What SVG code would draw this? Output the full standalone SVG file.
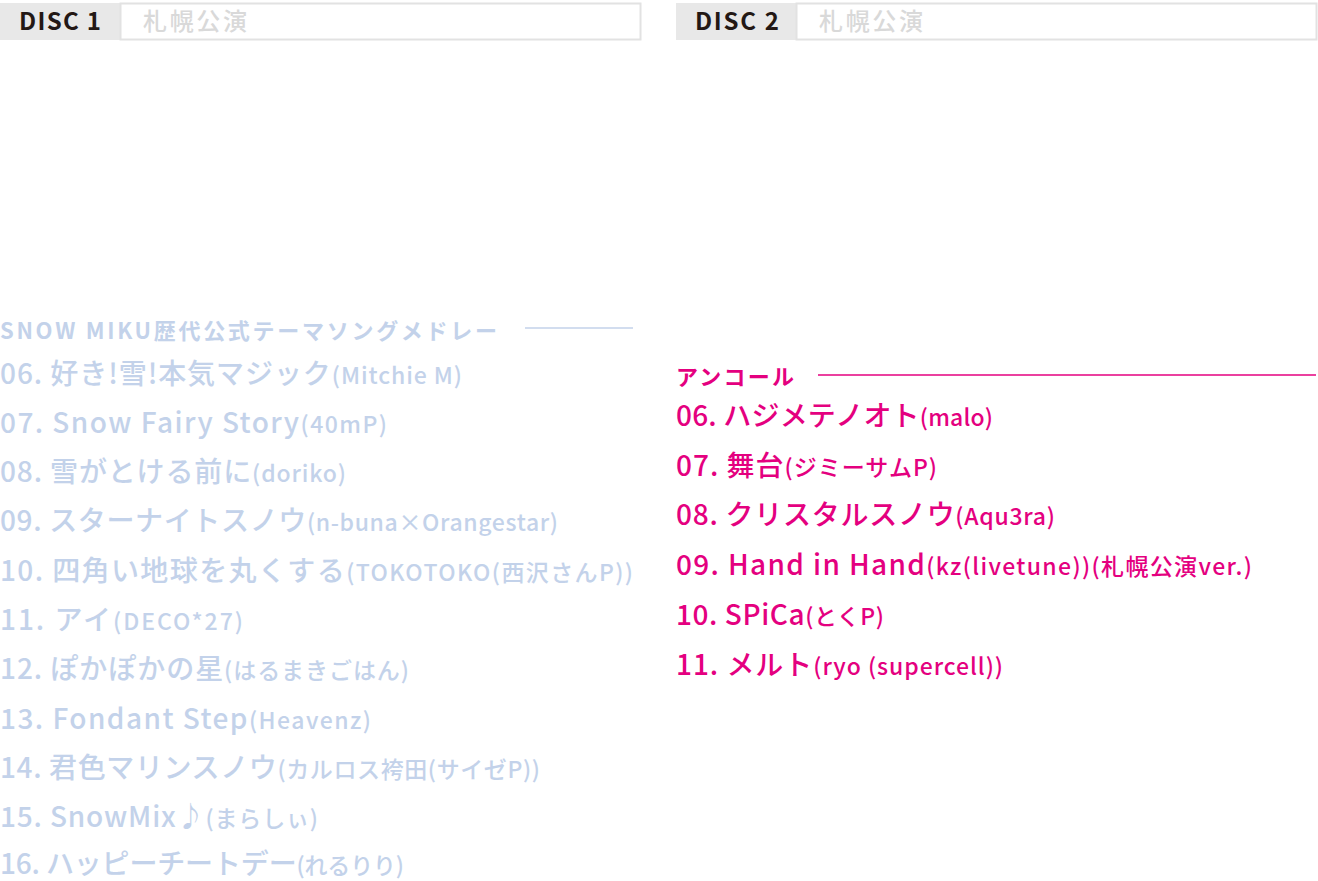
<svg xmlns="http://www.w3.org/2000/svg" width="1318" height="881" viewBox="0 0 1318 881">
<style>
text{font-family:"Noto Sans CJK JP","Noto Sans",sans-serif;font-weight:500}
.l{fill:#c3d2ea;font-size:28px}
.p{fill:#e4007f;font-size:28px}
.s{font-size:23px}
.h{font-size:22px;font-weight:700}
.disc{fill:#231815;font-size:24px;font-weight:700}
.city{fill:#d9d9d9;font-size:24px}
</style>
<rect width="1318" height="881" fill="#fff"/>
<g id="header1">
<rect x="0" y="3" width="120" height="37" fill="#e8e8e8"/>
<rect x="120.5" y="3.5" width="520" height="36" fill="#fff" stroke="#e2e2e2" stroke-width="2"/>
<text class="disc" x="19" y="30" textLength="82" lengthAdjust="spacing">DISC 1</text>
<text class="city" x="143" y="30" textLength="104" lengthAdjust="spacing">札幌公演</text>
</g>
<g id="header2">
<rect x="676" y="3" width="120" height="37" fill="#e8e8e8"/>
<rect x="796.5" y="3.5" width="520" height="36" fill="#fff" stroke="#e2e2e2" stroke-width="2"/>
<text class="disc" x="695" y="30" textLength="84" lengthAdjust="spacing">DISC 2</text>
<text class="city" x="819" y="30" textLength="104" lengthAdjust="spacing">札幌公演</text>
</g>
<g id="connectors">
<line x1="525" y1="328" x2="633" y2="328" stroke="#c3d2ea" stroke-width="1.5"/>
<line x1="818" y1="375" x2="1316" y2="375" stroke="#e4007f" stroke-width="1.5"/>
</g>
<g id="disc1">
<text class="l h" x="0" y="339" textLength="497" lengthAdjust="spacing">SNOW MIKU歴代公式テーマソングメドレー</text>
<text class="l" x="0" y="384" textLength="462" lengthAdjust="spacing">06. 好き!雪!本気マジック<tspan class="s">(Mitchie M)</tspan></text>
<text class="l" x="0" y="433" textLength="387" lengthAdjust="spacing">07. Snow Fairy Story<tspan class="s">(40mP)</tspan></text>
<text class="l" x="0" y="482" textLength="346" lengthAdjust="spacing">08. 雪がとける前に<tspan class="s">(doriko)</tspan></text>
<text class="l" x="0" y="531" textLength="558" lengthAdjust="spacing">09. スターナイトスノウ<tspan class="s">(n-buna×Orangestar)</tspan></text>
<text class="l" x="0" y="581" textLength="633" lengthAdjust="spacing">10. 四角い地球を丸くする<tspan class="s">(TOKOTOKO(西沢さんP))</tspan></text>
<text class="l" x="0" y="630" textLength="243" lengthAdjust="spacing">11. アイ<tspan class="s">(DECO*27)</tspan></text>
<text class="l" x="0" y="679" textLength="409" lengthAdjust="spacing">12. ぽかぽかの星<tspan class="s">(はるまきごはん)</tspan></text>
<text class="l" x="0" y="729" textLength="371" lengthAdjust="spacing">13. Fondant Step<tspan class="s">(Heavenz)</tspan></text>
<text class="l" x="0" y="778" textLength="540" lengthAdjust="spacing">14. 君色マリンスノウ<tspan class="s">(カルロス袴田(サイゼP))</tspan></text>
<text class="l" x="0" y="827" textLength="318" lengthAdjust="spacing">15. SnowMix♪<tspan class="s">(まらしぃ)</tspan></text>
<text class="l" x="0" y="874" textLength="404" lengthAdjust="spacing">16. ハッピーチートデー<tspan class="s">(れるりり)</tspan></text>
</g>
<g id="disc2">
<text class="p h" x="676" y="385" textLength="118" lengthAdjust="spacing">アンコール</text>
<text class="p" x="676" y="426" textLength="317" lengthAdjust="spacing">06. ハジメテノオト<tspan class="s">(malo)</tspan></text>
<text class="p" x="676" y="476" textLength="261" lengthAdjust="spacing">07. 舞台<tspan class="s">(ジミーサムP)</tspan></text>
<text class="p" x="676" y="525" textLength="379" lengthAdjust="spacing">08. クリスタルスノウ<tspan class="s">(Aqu3ra)</tspan></text>
<text class="p" x="676" y="575" textLength="576" lengthAdjust="spacing">09. Hand in Hand<tspan class="s">(kz(livetune))(札幌公演ver.)</tspan></text>
<text class="p" x="676" y="625" textLength="208" lengthAdjust="spacing">10. SPiCa<tspan class="s">(とくP)</tspan></text>
<text class="p" x="676" y="675" textLength="327" lengthAdjust="spacing">11. メルト<tspan class="s">(ryo (supercell))</tspan></text>
</g>
</svg>
